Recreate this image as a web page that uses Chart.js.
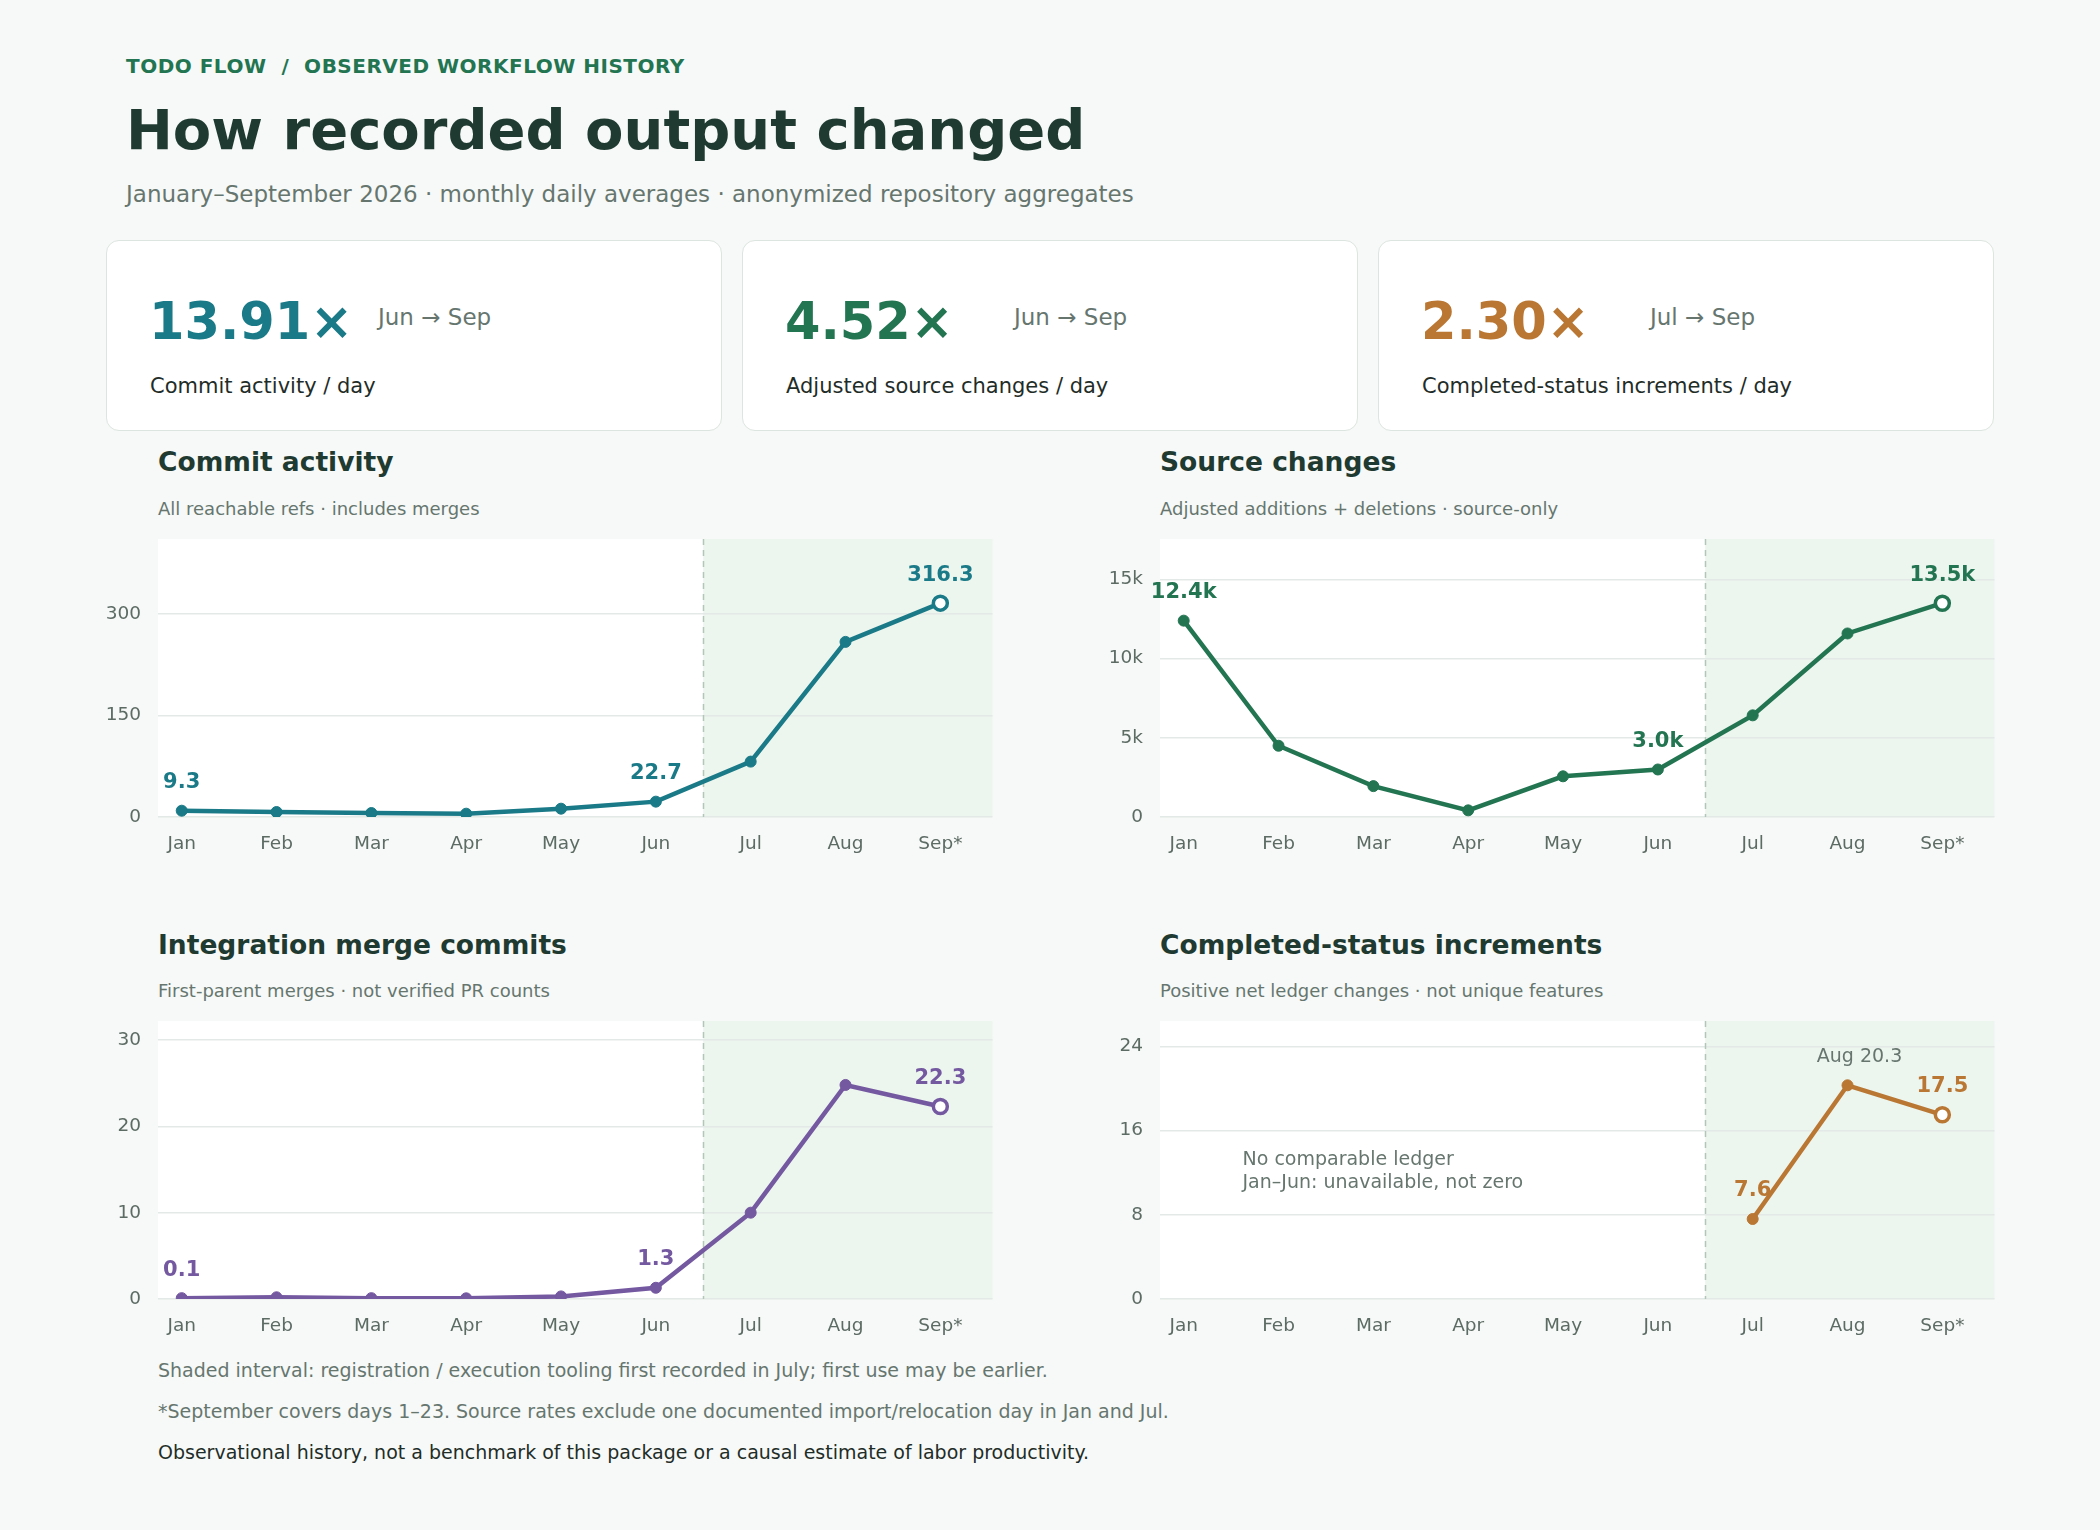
<!DOCTYPE html>
<html>
<head>
<meta charset="utf-8">
<title>How recorded output changed</title>
<script src="https://cdn.jsdelivr.net/npm/chart.js@4.4.1/dist/chart.umd.min.js"></script>
<style>
    html, body { margin: 0; padding: 0; }
    body {
        width: 2100px;
        height: 1530px;
        position: relative;
        background: #f6f9f7;
        font-family: 'DejaVu Sans', sans-serif;
        overflow: hidden;
    }
    .abs { position: absolute; white-space: nowrap; line-height: 1.2; }
    .kicker { left: 126px; top: 54px; font-size: 20px; font-weight: bold; color: #237552; letter-spacing: 0.5px; }
    .title { left: 126px; top: 96px; font-size: 56px; font-weight: bold; color: #1f3a31; }
    .subtitle { left: 126px; top: 181px; font-size: 23px; color: #66766f; }
    .card {
        position: absolute; top: 240px; width: 614px; height: 189px;
        background: #ffffff; border: 1px solid #dde5e0; border-radius: 13px;
    }
    .card .num { position: absolute; left: 42px; top: 50px; font-size: 51px; font-weight: bold; line-height: 1.2; }
    .card .period { position: absolute; left: 271px; top: 63px; font-size: 23px; color: #66766f; line-height: 1.2; white-space: nowrap; }
    .card .label { position: absolute; left: 43px; top: 133px; font-size: 21px; color: #1f2d28; line-height: 1.2; white-space: nowrap; }
    .ptitle { font-size: 26.5px; font-weight: bold; color: #1f3a31; }
    .psub { font-size: 18px; color: #66766f; }
    .note { left: 158px; font-size: 19px; color: #66766f; }
    .note.dark { color: #1f2d28; }
    .chartbox { position: absolute; width: 915px; height: 351px; }
</style>
</head>
<body>
<div class="abs kicker">TODO FLOW &nbsp;/&nbsp; OBSERVED WORKFLOW HISTORY</div>
<div class="abs title">How recorded output changed</div>
<div class="abs subtitle">January–September 2026 · monthly daily averages · anonymized repository aggregates</div>

<div id="cards"></div>

<div class="abs ptitle" style="left:158px; top:446px;">Commit activity</div>
<div class="abs psub" style="left:158px; top:498px;">All reachable refs · includes merges</div>
<div class="abs ptitle" style="left:1160px; top:446px;">Source changes</div>
<div class="abs psub" style="left:1160px; top:498px;">Adjusted additions + deletions · source-only</div>
<div class="abs ptitle" style="left:158px; top:929px;">Integration merge commits</div>
<div class="abs psub" style="left:158px; top:980px;">First-parent merges · not verified PR counts</div>
<div class="abs ptitle" style="left:1160px; top:929px;">Completed-status increments</div>
<div class="abs psub" style="left:1160px; top:980px;">Positive net ledger changes · not unique features</div>

<div class="chartbox" style="left:88px; top:511px;"><canvas id="commitChart"></canvas></div>
<div class="chartbox" style="left:1090px; top:511px;"><canvas id="sourceChart"></canvas></div>
<div class="chartbox" style="left:88px; top:993px;"><canvas id="mergeChart"></canvas></div>
<div class="chartbox" style="left:1090px; top:993px;"><canvas id="completedChart"></canvas></div>

<div class="abs note" style="top:1359px;">Shaded interval: registration / execution tooling first recorded in July; first use may be earlier.</div>
<div class="abs note" style="top:1400px;">*September covers days 1–23. Source rates exclude one documented import/relocation day in Jan and Jul.</div>
<div class="abs note dark" style="top:1441px;">Observational history, not a benchmark of this package or a causal estimate of labor productivity.</div>

<script>
// months on the x-axis (Sep is partial)
const months = ['Jan', 'Feb', 'Mar', 'Apr', 'May', 'Jun', 'Jul', 'Aug', 'Sep*'];

// monthly daily averages
const commitValues = [9.3, 7.4, 5.9, 4.9, 12.3, 22.7, 81.9, 259.0, 316.3];
const sourceValues = [12400, 4500, 1950, 420, 2570, 3000, 6420, 11590, 13500];
const mergeValues = [0.1, 0.2, 0.1, 0.08, 0.3, 1.3, 10.0, 24.8, 22.3];
const completedValues = [null, null, null, null, null, null, 7.6, 20.3, 17.5];

// y-axis ticks
const commitTicks = [0, 150, 300];
const sourceTicks = [0, 5000, 10000, 15000];
const mergeTicks = [0, 10, 20, 30];
const completedTicks = [0, 8, 16, 24];

// months that get a value label
const commitLabelAt = [0, 5, 8];
const sourceLabelAt = [0, 5, 8];
const mergeLabelAt = [0, 5, 8];
const completedLabelAt = [6, 8];

const shadeFrom = 5.5; // between Jun and Jul

const cards = [
    { value: '13.91×', period: 'Jun → Sep', label: 'Commit activity / day', color: '#1a7a87' },
    { value: '4.52×', period: 'Jun → Sep', label: 'Adjusted source changes / day', color: '#237552' },
    { value: '2.30×', period: 'Jul → Sep', label: 'Completed-status increments / day', color: '#b97733' }
];

const FONT = "'DejaVu Sans', sans-serif";
const TICK_COLOR = '#5d6b65';

// summary cards
const cardsEl = document.getElementById('cards');
cards.forEach((c, i) => {
    const div = document.createElement('div');
    div.className = 'card';
    div.style.left = (106 + i * 636) + 'px';
    div.innerHTML = '<div class="num" style="color:' + c.color + '">' + c.value + '</div>' +
        '<div class="period">' + c.period + '</div>' +
        '<div class="label">' + c.label + '</div>';
    cardsEl.appendChild(div);
});

// white plot area, shaded tooling interval and dashed divider
const shadePlugin = {
    id: 'shade',
    beforeDraw(chart) {
        const { ctx, chartArea: a, scales: { x } } = chart;
        const sx = x.getPixelForValue(shadeFrom);
        ctx.save();
        ctx.fillStyle = '#ffffff';
        ctx.fillRect(a.left, a.top, sx - a.left, a.bottom - a.top);
        ctx.fillStyle = '#ecf5ee';
        ctx.fillRect(sx, a.top, a.right - sx, a.bottom - a.top);
        ctx.restore();
    },
    beforeDatasetsDraw(chart) {
        const { ctx, chartArea: a, scales: { x } } = chart;
        const sx = Math.round(x.getPixelForValue(shadeFrom)) + 0.5;
        ctx.save();
        ctx.strokeStyle = '#b2c6b9';
        ctx.lineWidth = 1.5;
        ctx.setLineDash([6, 5]);
        ctx.beginPath();
        ctx.moveTo(sx, a.top);
        ctx.lineTo(sx, a.bottom);
        ctx.stroke();
        ctx.restore();
    }
};

// value labels above points and the free-text note
const labelPlugin = {
    id: 'pointLabels',
    afterDatasetsDraw(chart, args, opts) {
        const { ctx, scales: { x, y } } = chart;
        ctx.save();
        ctx.textBaseline = 'middle';
        (opts.items || []).forEach(item => {
            ctx.font = item.font;
            ctx.fillStyle = item.color;
            ctx.textAlign = 'center';
            ctx.fillText(item.text, x.getPixelForValue(item.i) + (item.dx || 0), y.getPixelForValue(item.v) - 28);
        });
        if (opts.note) {
            ctx.font = '19px ' + FONT;
            ctx.fillStyle = '#66766f';
            ctx.textAlign = 'left';
            const nx = x.getPixelForValue(opts.note.x);
            const ny = y.getPixelForValue(opts.note.y);
            opts.note.lines.forEach((line, k) => ctx.fillText(line, nx, ny + k * 23));
        }
        ctx.restore();
    }
};

function renderPanel(id, values, ticks, yMax, color, tickFormat, items, note) {
    const ctx = document.getElementById(id).getContext('2d');
    const last = values.length - 1;

    return new Chart(ctx, {
        type: 'line',
        data: {
            datasets: [{
                data: values.map((v, i) => ({ x: i, y: v })),
                borderColor: color,
                borderWidth: 4.5,
                tension: 0,
                spanGaps: false,
                pointRadius: values.map((v, i) => i === last ? 7 : 5.5),
                pointBackgroundColor: values.map((v, i) => i === last ? '#ffffff' : color),
                pointBorderColor: color,
                pointBorderWidth: values.map((v, i) => i === last ? 3.5 : 1)
            }]
        },
        options: {
            responsive: true,
            maintainAspectRatio: false,
            animation: false,
            layout: { padding: { top: 0, right: 10, left: 0, bottom: 0 } },
            plugins: {
                legend: { display: false },
                tooltip: { enabled: false },
                pointLabels: { items: items, note: note }
            },
            scales: {
                x: {
                    type: 'linear',
                    min: -0.25,
                    max: 8.55,
                    grid: { display: false },
                    border: { display: false },
                    afterBuildTicks: s => { s.ticks = months.map((m, i) => ({ value: i })); },
                    afterFit: s => { s.height = 45; },
                    ticks: {
                        padding: 8,
                        color: TICK_COLOR,
                        font: { family: FONT, size: 18.5 },
                        maxRotation: 0,
                        autoSkip: false,
                        callback: v => months[v]
                    }
                },
                y: {
                    min: 0,
                    max: yMax,
                    grid: { color: '#e3e9e6', lineWidth: 1.5, drawTicks: false },
                    border: { display: false },
                    afterBuildTicks: s => { s.ticks = ticks.map(v => ({ value: v })); },
                    afterFit: s => { s.width = 70; },
                    ticks: {
                        padding: 17,
                        color: TICK_COLOR,
                        font: { family: FONT, size: 18.5 },
                        callback: tickFormat
                    }
                }
            }
        },
        plugins: [shadePlugin, labelPlugin]
    });
}

const boldLabel = 'bold 21px ' + FONT;
const plain = v => String(v);
const kilo = v => v === 0 ? '0' : (v / 1000) + 'k';

renderPanel('commitChart', commitValues, commitTicks, 411, '#1a7a87', plain,
    commitLabelAt.map(i => ({ i: i, v: commitValues[i], text: commitValues[i].toFixed(1), color: '#1a7a87', font: boldLabel })));

renderPanel('sourceChart', sourceValues, sourceTicks, 17550, '#237552', kilo,
    sourceLabelAt.map(i => ({ i: i, v: sourceValues[i], text: (sourceValues[i] / 1000).toFixed(1) + 'k', color: '#237552', font: boldLabel })));

renderPanel('mergeChart', mergeValues, mergeTicks, 32.2, '#7458a0', plain,
    mergeLabelAt.map(i => ({ i: i, v: mergeValues[i], text: mergeValues[i].toFixed(1), color: '#7458a0', font: boldLabel })));

renderPanel('completedChart', completedValues, completedTicks, 26.4, '#b97733', plain,
    completedLabelAt.map(i => ({ i: i, v: completedValues[i], text: completedValues[i].toFixed(1), color: '#b97733', font: boldLabel }))
        .concat([{ i: 7, v: completedValues[7], text: 'Aug ' + completedValues[7].toFixed(1), color: '#66766f', font: '19px ' + FONT, dx: 12 }]),
    { x: 0.62, y: 13.2, lines: ['No comparable ledger', 'Jan–Jun: unavailable, not zero'] });
</script>
</body>
</html>
